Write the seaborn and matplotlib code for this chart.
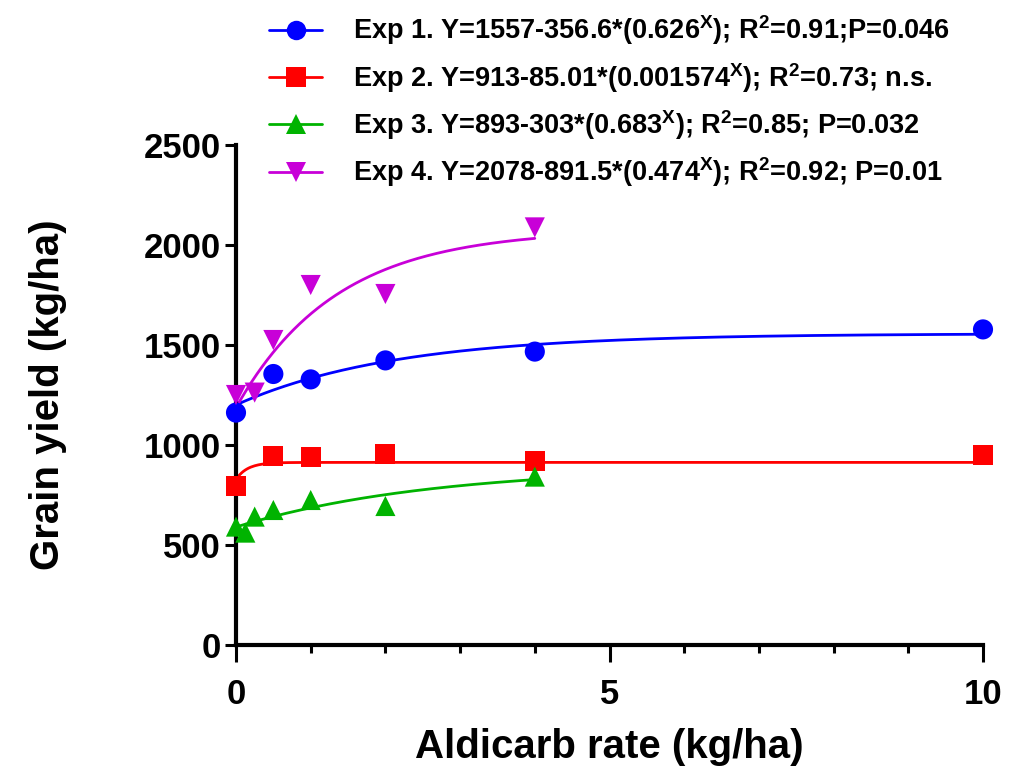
import numpy as np
import pandas as pd
import seaborn as sns
import matplotlib.pyplot as plt
from matplotlib.lines import Line2D
from matplotlib.ticker import MultipleLocator

# Data
exp1_x = [0, 0.5, 1, 2, 4, 10]
exp1_y = [1162, 1355, 1328, 1423, 1467, 1578]
exp2_x = [0, 0.5, 1, 2, 4, 10]
exp2_y = [797, 945, 942, 955, 922, 950]
exp3_x = [0, 0.125, 0.25, 0.5, 1, 2, 4]
exp3_y = [592, 562, 642, 675, 725, 695, 842]
exp4_x = [0, 0.25, 0.5, 1, 2, 4]
exp4_y = [1250, 1262, 1525, 1800, 1755, 2088]

# Fitted models from the legend: Y = a - b * c^X
fits = [(1557, 356.6, 0.626), (913, 85.01, 0.001574), (893, 303, 0.683), (2078, 891.5, 0.474)]

labels = [
    r'Exp 1. Y=1557-356.6*(0.626$^{\mathbf{X}}$); R$^{\mathbf{2}}$=0.91;P=0.046',
    r'Exp 2. Y=913-85.01*(0.001574$^{\mathbf{X}}$); R$^{\mathbf{2}}$=0.73; n.s.',
    r'Exp 3. Y=893-303*(0.683$^{\mathbf{X}}$); R$^{\mathbf{2}}$=0.85; P=0.032',
    r'Exp 4. Y=2078-891.5*(0.474$^{\mathbf{X}}$); R$^{\mathbf{2}}$=0.92; P=0.01',
]
colors = ['#0000FF', '#FF0000', '#00B300', '#C800D8']
markers = ['o', 's', '^', 'v']

sns.set_style('ticks')
plt.rcParams['font.family'] = ['Liberation Sans', 'DejaVu Sans']
plt.rcParams['font.weight'] = 'bold'
plt.rcParams['mathtext.fontset'] = 'custom'
plt.rcParams['mathtext.rm'] = 'Liberation Sans:bold'
plt.rcParams['mathtext.bf'] = 'Liberation Sans:bold'
plt.rcParams['mathtext.it'] = 'Liberation Sans:bold'
for k in ['text.color', 'axes.labelcolor', 'xtick.color', 'ytick.color', 'axes.edgecolor']:
    plt.rcParams[k] = 'black'

fig = plt.figure(figsize=(10.13, 7.78), dpi=100)
ax = fig.add_axes([236 / 1013, 1 - 645 / 778, 747 / 1013, 500 / 778])

xs = [exp1_x, exp2_x, exp3_x, exp4_x]
ys = [exp1_y, exp2_y, exp3_y, exp4_y]
handles = []
for i in range(4):
    a, b, c = fits[i]
    xf = np.linspace(0, max(xs[i]), 400)
    curve = pd.DataFrame({'x': xf, 'y': a - b * c ** xf})
    sns.lineplot(data=curve, x='x', y='y', color=colors[i], lw=2, ax=ax, zorder=2)
    pts = pd.DataFrame({'x': xs[i], 'y': ys[i]})
    sns.scatterplot(data=pts, x='x', y='y', marker=markers[i], color=colors[i],
                    s=210, edgecolor='none', linewidth=0, ax=ax, zorder=3, clip_on=False)
    handles.append(Line2D([], [], color=colors[i], lw=2, marker=markers[i],
                          markersize=14, markeredgewidth=0))

ax.set_xlim(0, 10)
ax.set_ylim(0, 2500)
ax.set_yticks([0, 500, 1000, 1500, 2000, 2500])
ax.set_xticks([0, 5, 10])
ax.xaxis.set_minor_locator(MultipleLocator(1))
sns.despine(ax=ax)
for s in ['left', 'bottom']:
    ax.spines[s].set_linewidth(3)
ax.tick_params(axis='both', which='major', length=8, width=2.2, labelsize=25, pad=3)
ax.tick_params(axis='x', which='major', length=12, pad=12)
ax.tick_params(axis='x', which='minor', length=6, width=2.2)
for t in ax.get_xticklabels() + ax.get_yticklabels():
    t.set_fontweight('bold')

ax.set_xlabel('Aldicarb rate (kg/ha)', fontsize=29, fontweight='bold', labelpad=12)
ax.set_ylabel('Grain yield (kg/ha)', fontsize=29, fontweight='bold', labelpad=55)

fig.legend(handles, labels, loc='upper left', bbox_to_anchor=(245 / 1013, 1 + 11 / 778),
           frameon=False, handlelength=1.95, handletextpad=1.15,
           labelspacing=0.5, prop={'weight': 'bold', 'size': 19.5})

fig.savefig('out.png', dpi=100)
